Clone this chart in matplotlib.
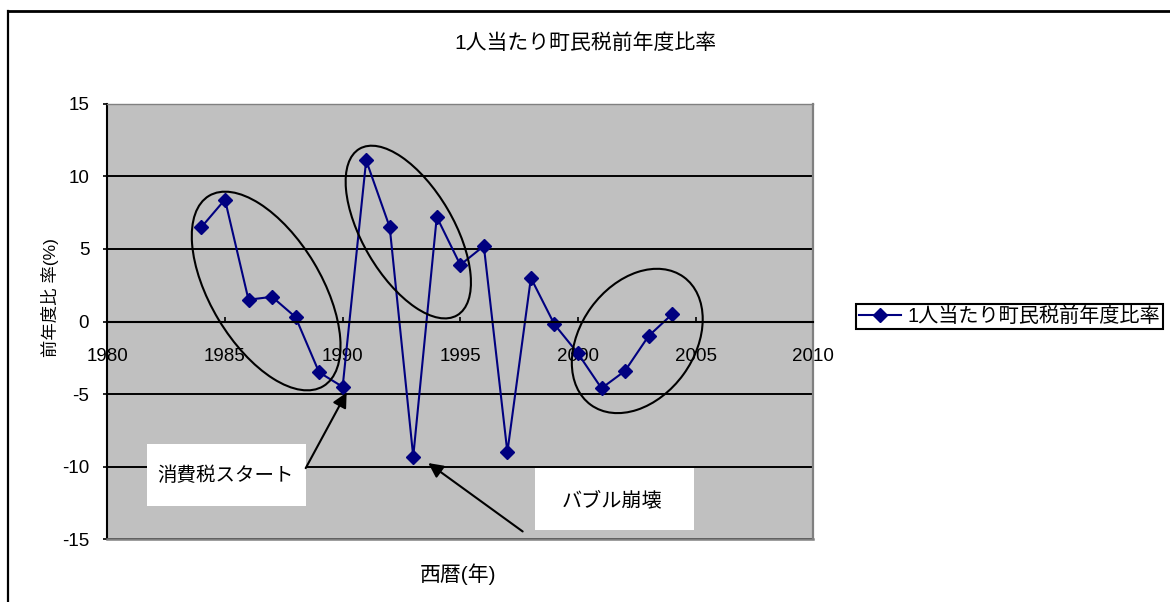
import matplotlib
matplotlib.use("Agg")
import matplotlib.pyplot as plt
from matplotlib.patches import Ellipse, Rectangle
from matplotlib.lines import Line2D
from matplotlib.transforms import Affine2D

plt.rcParams['font.family'] = ['Liberation Sans', 'Noto Sans CJK JP', 'DejaVu Sans']

# Per-capita town tax, year-over-year change (%)
years = [1984, 1985, 1986, 1987, 1988, 1989, 1990, 1991, 1992, 1993, 1994,
         1995, 1996, 1997, 1998, 1999, 2000, 2001, 2002, 2003, 2004]
ratio = [6.5, 8.4, 1.5, 1.7, 0.3, -3.5, -4.5, 11.1, 6.5, -9.3, 7.2,
         3.9, 5.2, -9.0, 3.0, -0.2, -2.2, -4.6, -3.4, -1.0, 0.5]

x_ticks = [1980, 1985, 1990, 1995, 2000, 2005, 2010]
y_ticks = [-15, -10, -5, 0, 5, 10, 15]

title = '1人当たり町民税前年度比率'
series_name = '1人当たり町民税前年度比率'
x_label = '西暦(年)'
y_label = '前年度比 率(%)'

W, H = 1170, 602
DPI = 100
fig = plt.figure(figsize=(W / DPI, H / DPI), dpi=DPI)
fig.patch.set_facecolor('white')

# plot area in pixels: left 107.3, right 813.3, top 103.7, bottom 539.3
L, R, T, B = 107.3, 813.3, 103.7, 539.3
ax = fig.add_axes([L / W, 1 - B / H, (R - L) / W, (B - T) / H])
ax.set_facecolor('#C0C0C0')
ax.set_xlim(1980, 2010)
ax.set_ylim(-15, 15)
ax.set_axisbelow(True)

# spines
ax.spines['left'].set_color('black')
ax.spines['left'].set_linewidth(1.5)
ax.spines['top'].set_color('#808080')
ax.spines['top'].set_linewidth(1.0)
ax.spines['right'].set_color('#808080')
ax.spines['right'].set_linewidth(1.6)
ax.spines['bottom'].set_position(('data', 0))
ax.spines['bottom'].set_color('black')
ax.spines['bottom'].set_linewidth(1.5)
ax.plot([0, 1], [0, 0], transform=ax.transAxes, color='#808080', lw=1.8,
        clip_on=False, zorder=3)

ax.set_xticks(x_ticks)
ax.set_xticklabels([str(v) for v in x_ticks])
ax.set_yticks(y_ticks)
ax.set_yticklabels([str(v) for v in y_ticks])
ax.tick_params(axis='x', direction='in', length=3.6, width=1.2, pad=19,
               labelsize=13.5, colors='black')
ax.tick_params(axis='y', direction='out', length=3, width=1.2, pad=10,
               labelsize=13.5, colors='black')
ax.yaxis.grid(True, color='black', linewidth=1.4)
ax.xaxis.grid(False)

# data series
ax.plot(years, ratio, color='#000080', lw=1.5, marker='D', markersize=7.5,
        markerfacecolor='#000080', markeredgecolor='#000080', zorder=2,
        label=series_name)

# ellipses drawn in pixel units around groups of points
def pixel_ellipse(xc, yc, w, h, angle):
    cx, cy = ax.transData.transform((xc, yc))
    e = Ellipse((0, 0), w, h, angle=angle, fill=False, edgecolor='black',
                lw=1.5, zorder=3,
                transform=Affine2D().translate(cx, cy))
    fig.add_artist(e)

pixel_ellipse(1986.75, 2.10, 222, 111, -59)
pixel_ellipse(1992.79, 6.16, 193, 91, -59.6)
pixel_ellipse(2002.52, -1.34, 158, 114, 54)

# annotation boxes
ax.add_patch(Rectangle((1981.70, -12.74), 6.73, 4.32, facecolor='white',
                       edgecolor='none', zorder=4))
ax.text(1985.04, -10.63, '消費税スタート', ha='center', va='center',
        fontsize=14, zorder=5)
ax.add_patch(Rectangle((1998.17, -14.39), 6.76, 4.29, facecolor='white',
                       edgecolor='none', zorder=4))
ax.text(2001.43, -12.33, 'バブル崩壊', ha='center', va='center',
        fontsize=14.5, zorder=5)

arrow = dict(arrowstyle='-|>', color='black', lw=1.5, mutation_scale=22,
             shrinkA=0, shrinkB=0)
ax.annotate('', xy=(1990.17, -4.89), xytext=(1988.43, -10.10),
            arrowprops=arrow, zorder=5)
ax.annotate('', xy=(1993.64, -9.75), xytext=(1997.65, -14.46),
            arrowprops=arrow, zorder=5, annotation_clip=False)

# title and axis labels
fig.text(585 / W, 1 - 43 / H, title, ha='center', va='center', fontsize=15)
fig.text(458 / W, 1 - 574 / H, x_label, ha='center', va='center', fontsize=15)
fig.text(50 / W, 1 - 297.5 / H, y_label, ha='center', va='center',
         fontsize=12.5, rotation=90)

# legend
handle = Line2D([], [], color='#000080', lw=1.5, marker='D', markersize=7.5,
                markerfacecolor='#000080', markeredgecolor='#000080')
leg = fig.legend([handle], [series_name], loc='upper left',
                 bbox_to_anchor=(855.7 / W, 1 - 304 / H), frameon=True,
                 fancybox=False, framealpha=1, edgecolor='black',
                 fontsize=14.5, borderpad=0.15, borderaxespad=0,
                 handlelength=2.1, handletextpad=0.3)
leg.get_frame().set_linewidth(1.5)

# outer frame of the chart
fig.add_artist(Line2D([8 / W, 8 / W], [0, 1 - 11 / H], color='black', lw=1.6,
                      transform=fig.transFigure))
fig.add_artist(Line2D([8 / W, 1], [1 - 11 / H, 1 - 11 / H], color='black',
                      lw=2.0, transform=fig.transFigure))

fig.savefig('out.png', dpi=DPI)
